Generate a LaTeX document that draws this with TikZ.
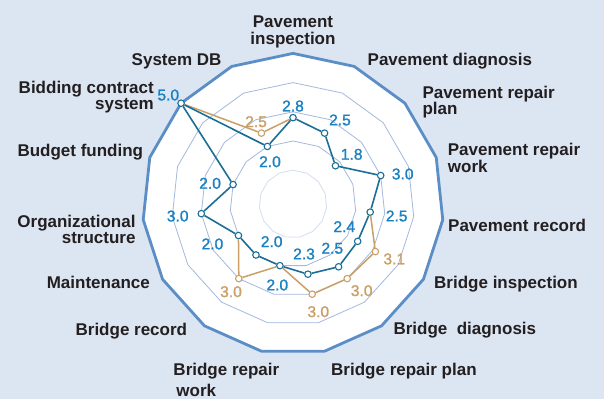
\documentclass[tikz,border=0pt]{standalone}
\usepackage{fontspec}
\setmainfont{Liberation Sans}
\newfontfamily\numfont{Liberation Sans}[FakeBold=1.3]
\usetikzlibrary{positioning}

\definecolor{bgblue}{HTML}{DCE5F2}
\definecolor{rimblue}{HTML}{5B8EC6}
\definecolor{ringblue}{HTML}{A3B9DD}
\definecolor{ringpale}{HTML}{D3DEEE}
\definecolor{lineblue}{HTML}{1B6F97}
\definecolor{numblue}{HTML}{1A82C2}
\definecolor{tanline}{HTML}{C9A066}
\definecolor{ink}{HTML}{231F20}

\begin{document}
\begin{tikzpicture}[
        x=1pt, y=1pt,
        axis/.style={font=\fontsize{17}{16.6}\selectfont\bfseries, text=ink, inner sep=0pt},
        bnum/.style={font=\numfont\fontsize{15.6}{16}\selectfont, text=numblue, inner sep=0pt},
        tnum/.style={bnum, text=tanline},
        bpt/.style={circle, draw=lineblue, fill=white, line width=1.1pt, inner sep=0pt, minimum size=6.5pt},
        tpt/.style={bpt, draw=tanline},
        bline/.style={draw=lineblue, line width=1.6pt},
        tline/.style={draw=tanline, line width=1.5pt}
    ]

%%
% Background and the 15-sided frame
    \fill[bgblue] (-293,-195) rectangle (311,204);
    \useasboundingbox (-293,-195) rectangle (311,204);
    \draw[rimblue, line width=2.8pt, fill=white]
        (90:150.6) \foreach \k in {1,...,14} {-- ({90-24*\k}:150.6)} -- cycle;
    \draw[ringpale, line width=0.8pt]
        (90:33.8) \foreach \k in {1,...,14} {-- ({90-24*\k}:33.8)} -- cycle;
    \foreach \v in {2,3,4}
        \draw[ringblue, line width=0.8pt]
            (90:{4.6+29.2*\v}) \foreach \k in {1,...,14} {-- ({90-24*\k}:{4.6+29.2*\v})} -- cycle;

%%
% Data points: blue series, then the tan values that differ
    \foreach \v [count=\k from 0] in {2.8,2.5,1.8,3.0,2.5,2.4,2.5,2.3,2.0,2.0,2.0,3.0,2.0,5.0,2.0}
        \node[bpt] (b\k) at ({90-24*\k}:{4.6+29.2*\v}) {};
    \node[tpt] (t5) at (-30:{4.6+29.2*3.1}) {};
    \node[tpt] (t6) at (-54:{4.6+29.2*3.0}) {};
    \node[tpt] (t7) at (-78:{4.6+29.2*3.0}) {};
    \node[tpt] (t9) at (-126:{4.6+29.2*3.0}) {};
    \node[tpt] (t14) at (114:{4.6+29.2*2.5}) {};
    \draw[tline] (b4) -- (t5) -- (t6) -- (t7) -- (b8) -- (t9) -- (b10);
    \draw[tline] (b13) -- (t14) -- (b0);
    \draw[bline] (b0) -- (b1) -- (b2) -- (b3) -- (b4) -- (b5) -- (b6) -- (b7)
        -- (b8) -- (b9) -- (b10) -- (b11) -- (b12) -- (b13) -- (b14) -- (b0);

%%
% Values
    \node[bnum] (v0) at ([shift={(0,11.6)}]b0) {2.8};
    \node[bnum] (v1) at ([shift={(15.4,13.1)}]b1) {2.5};
    \node[bnum] (v2) at ([shift={(16.2,11.4)}]b2) {1.8};
    \node[bnum] (v3) at ([shift={(22,1.5)}]b3) {3.0};
    \node[bnum] (v4) at ([shift={(26.5,-3.9)}]b4) {2.5};
    \node[bnum] (v5) at ([shift={(-13.4,14.7)}]b5) {2.4};
    \node[bnum] (v6) at ([shift={(-6.3,18.5)}]b6) {2.5};
    \node[bnum] (v7) at ([shift={(-3.9,20.2)}]b7) {2.3};
    \node[bnum] (v8) at ([shift={(-2.6,-19.4)}]b8) {2.0};
    \node[bnum] (v9) at ([shift={(15.7,13.3)}]b9) {2.0};
    \node[bnum] (v10) at ([shift={(-26,-8.5)}]b10) {2.0};
    \node[bnum] (v11) at ([shift={(-23.6,-2.4)}]b11) {3.0};
    \node[bnum] (v12) at ([shift={(-23,1.2)}]b12) {2.0};
    \node[bnum] (v13) at ([shift={(-12.8,8.2)}]b13) {5.0};
    \node[bnum] (v14) at ([shift={(2.6,-15.3)}]b14) {2.0};
    \node[tnum] (w5) at ([shift={(18.9,-7.4)}]t5) {3.1};
    \node[tnum] (w6) at ([shift={(14.5,-12.1)}]t6) {3.0};
    \node[tnum] (w7) at ([shift={(6.1,-17.5)}]t7) {3.0};
    \node[tnum] (w9) at ([shift={(-7.8,-13.1)}]t9) {3.0};
    \node[tnum] (w14) at ([shift={(-5.4,11.4)}]t14) {2.5};

%%
% Axis names
    \node[axis, anchor=north, align=center] (a0) at (0,188.4) {Pavement\\inspection};
    \node[axis, anchor=north west] (a1) at (74.5,150.8) {Pavement diagnosis};
    \node[axis, anchor=north west, align=left] (a2) at (129.3,118.4) {Pavement repair\\plan};
    \node[axis, anchor=north west, align=left] (a3) at (154.7,61.1) {Pavement repair\\work};
    \node[axis, anchor=north west] (a4) at (155,-14.9) {Pavement record};
    \node[axis, anchor=north west] (a5) at (141,-71.6) {Bridge inspection};
    \node[axis, anchor=north west] (a6) at (100.3,-118.2) {Bridge\ \ diagnosis};
    \node[axis, anchor=north west] (a7) at (38,-159.2) {Bridge repair plan};
    \node[axis, anchor=north west, align=left] (a8) at (-119.7,-159.2) {Bridge repair\\[4pt]\hspace*{3pt}work};
    \node[axis, anchor=north east] (a9) at (-105.7,-118.9) {Bridge record};
    \node[axis, anchor=north east] (a10) at (-143,-72.2) {Maintenance};
    \node[axis, anchor=north east, align=right] (a11) at (-157.3,-10.6) {Organizational\\structure};
    \node[axis, anchor=north east] (a12) at (-149.7,60.1) {Budget funding};
    \node[axis, anchor=north east, align=right] (a13) at (-139,123.4) {Bidding contract\\system};
    \node[axis, anchor=north east] (a14) at (-71.3,150.8) {System DB};

\end{tikzpicture}
\end{document}
